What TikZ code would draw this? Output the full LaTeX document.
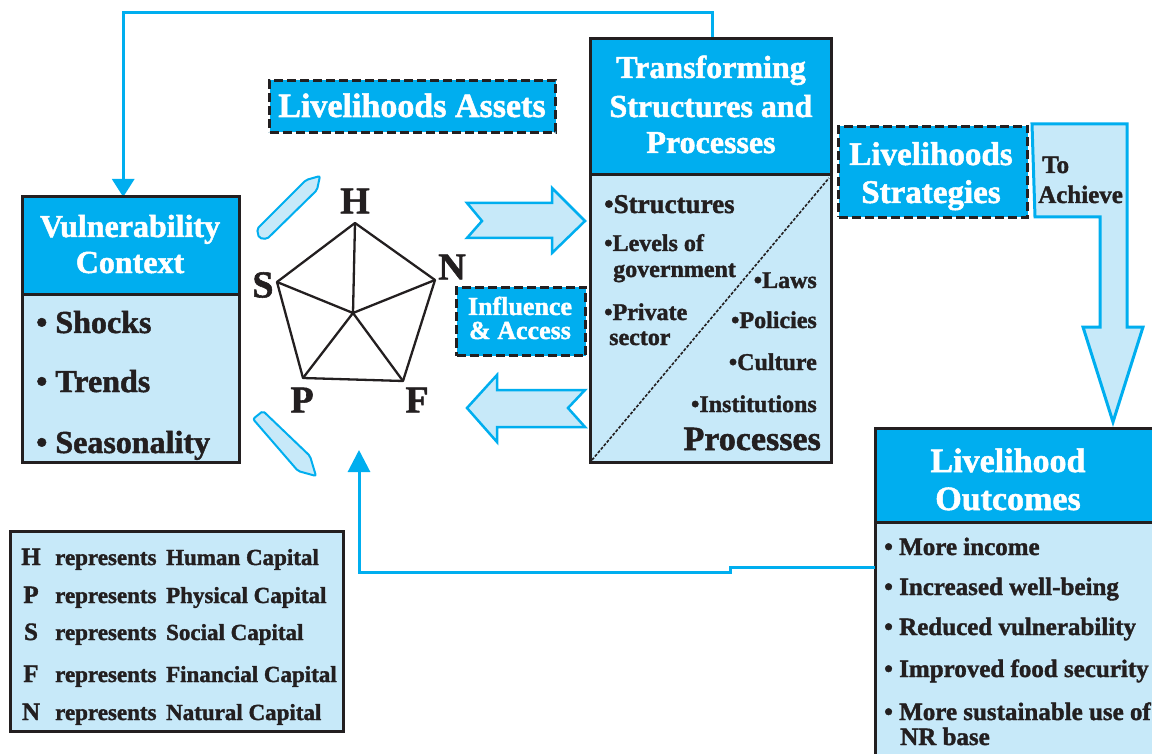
\documentclass[tikz,border=0pt]{standalone}
\usepackage{fontspec}
\setmainfont{Liberation Serif}[BoldFeatures={FakeBold=1.5}]
\usetikzlibrary{arrows.meta}
\definecolor{sblue}{RGB}{0,174,239}
\definecolor{lblue}{RGB}{199,233,249}
\definecolor{ink}{RGB}{35,31,32}
\newcommand{\myfs}[1]{\fontsize{#1}{#1}\selectfont}
\begin{document}
\begin{tikzpicture}[x=1pt,y=-1pt,
  boxfill/.style={fill=lblue, inner sep=0pt, anchor=north west},
  boxedge/.style={draw=ink, line width=3pt},
  dbox/.style={fill=sblue, draw=ink, line width=3pt, dash pattern=on 9pt off 4pt,
     preaction={draw=sblue, line width=3pt}, inner sep=0pt, anchor=north west},
  hd/.style={text=white, font=\bfseries\myfs{#1}, inner sep=0pt, anchor=base},
  hd/.default=32,
  bt/.style={text=ink, font=\bfseries\myfs{#1}, inner sep=0pt},
  bt/.default=24,
  lt/.style={text=ink, font=\bfseries\myfs{38}, inner sep=0pt},
  pl/.style={draw=ink, line width=2.3pt, line join=round},
  bl/.style={draw=sblue, line width=3pt},
  blockarrow/.style={fill=lblue, draw=sblue, line width=2.5pt, line join=miter},
]
\useasboundingbox (0,0) rectangle (1152,754);

% ---------------- top connector ----------------
\node[boxfill, minimum width=241pt, minimum height=423pt] (ts) at (590,39) {};
\node[boxfill, minimum width=217pt, minimum height=265pt] (vc) at (22,197) {};
\draw[bl, -{Triangle[width=22pt,length=18pt]}] ([xshift=2pt]ts.north) -- ++(0,-26) -| ([xshift=-7.5pt]vc.north);

% ---------------- Vulnerability Context ----------------
\fill[sblue] (vc.north west) rectangle (vc.east |- 0,295);
\draw[boxedge] (vc.west |- 0,295) -- (vc.east |- 0,295);
\draw[boxedge] (vc.north west) rectangle (vc.south east);
\node[hd] (vc1) at (130,237) {Vulnerability};
\node[hd] (vc2) at (130,273) {Context};
\node[bt=32, anchor=base west] (vc3) at (36,333) {\textbullet\ Shocks};
\node[bt=32, anchor=base west] (vc4) at (36,392) {\textbullet\ Trends};
\node[bt=32, anchor=base west] (vc5) at (36,453) {\textbullet\ Seasonality};

% ---------------- Transforming Structures and Processes ----------------
\fill[sblue] (ts.north west) rectangle (ts.east |- 0,175);
\draw[boxedge] (ts.west |- 0,175) -- (ts.east |- 0,175);
\draw[draw=ink, line width=1.6pt, dash pattern=on 3pt off 1.6pt] (592,460) -- (829,178);
\draw[boxedge] (ts.north west) rectangle (ts.south east);
\node[hd] (ts1) at (711,78) {Transforming};
\node[hd] (ts2) at (711,117) {Structures and};
\node[hd] (ts3) at (711,153) {Processes};
\node[bt=27, anchor=base west] (ts4) at (604,213) {\textbullet Structures};
\node[bt, anchor=base west] (ts5) at (604,251) {\textbullet Levels of};
\node[bt, anchor=base west] (ts6) at (613,277) {government};
\node[bt, anchor=base west] (ts7) at (604,320) {\textbullet Private};
\node[bt, anchor=base west] (ts8) at (609,345) {sector};
\node[bt, anchor=base east] (ts9) at (817,288) {\textbullet Laws};
\node[bt, anchor=base east] (ts10) at (817,328) {\textbullet Policies};
\node[bt, anchor=base east] (ts11) at (817,370) {\textbullet Culture};
\node[bt, anchor=base east] (ts12) at (817,412) {\textbullet Institutions};
\node[bt=34, anchor=base east] (ts13) at (821,450) {Processes};

% ---------------- Livelihoods Assets ----------------
\node[dbox, minimum width=286pt, minimum height=52pt] (la) at (268,79) {};
\node[hd=34] (la1) at (412,117) {Livelihoods Assets};

% ---------------- block arrows ----------------
\path[blockarrow] (467,203) -- (552,203) -- (552,188) -- (585,221) -- (552,253) -- (552,238) -- (467,238) -- (482,221) -- cycle;
\path[blockarrow] (467,408) -- (497,375) -- (497,390) -- (585,390) -- (568,408) -- (585,427) -- (497,427) -- (497,442) -- cycle;

% ---------------- small pencil arrows ----------------
\path[blockarrow, line width=2pt, rounded corners=2pt] (257,229) -- (306,180) -- (320,176) -- (317,190) -- (267,239) -- (259,238) -- cycle;
\path[blockarrow, line width=2pt, rounded corners=2pt] (253,419) -- (263,411) -- (310,456) -- (316,476) -- (298,471) -- cycle;

% ---------------- Influence & Access ----------------
\node[dbox, minimum width=129pt, minimum height=68pt] (ia) at (455,286) {};
\node[hd=26] (ia1) at (520,315) {Influence};
\node[hd=26] (ia2) at (520,339) {\& Access};

% ---------------- Pentagon ----------------
\coordinate (pH) at (355,223);
\coordinate (pN) at (435,280);
\coordinate (pF) at (403,381);
\coordinate (pP) at (303,378);
\coordinate (pS) at (277,282);
\coordinate (pO) at (353,313);
\draw[pl] (pH) -- (pN) -- (pF) -- (pP) -- (pS) -- cycle;
\draw[pl] (pO) -- (pH) (pO) -- (pN) (pO) -- (pF) (pO) -- (pP) (pO) -- (pS);
\node[lt] (lH) at (355,201) {H};
\node[lt] (lN) at (452,267) {N};
\node[lt] (lS) at (263,285) {S};
\node[lt] (lP) at (302,400) {P};
\node[lt] (lF) at (417,400) {F};

% ---------------- Livelihoods Strategies ----------------
\node[dbox, minimum width=189pt, minimum height=91pt] (ls) at (837,125) {};
\node[hd=33] (ls1) at (931,165) {Livelihoods};
\node[hd=33] (ls2) at (931,203) {Strategies};

% ---------------- To Achieve arrow ----------------
\path[blockarrow, line width=3pt] (1032,124) -- (1127,124) -- (1127,327) -- (1143,327) -- (1113,422) -- (1083,327) -- (1100,327) -- (1100,217) -- (1035,217) -- cycle;
\node[bt=25, anchor=base west] (ta1) at (1042,173) {To};
\node[bt=25, anchor=base west] (ta2) at (1038,203) {Achieve};

% ---------------- Livelihood Outcomes ----------------
\node[boxfill, minimum width=290pt, minimum height=340pt] (lo) at (875,428) {};
\fill[sblue] (lo.north west) rectangle (lo.east |- 0,522);
\draw[boxedge] (lo.west |- 0,522) -- (lo.east |- 0,522);
\draw[boxedge] (lo.north west) rectangle (lo.south east);
\node[hd=34] (lo1) at (1008,472) {Livelihood};
\node[hd=34] (lo2) at (1008,510) {Outcomes};
\node[bt=25, anchor=base west] (lo3) at (884,555) {\textbullet\ More income};
\node[bt=25, anchor=base west] (lo4) at (884,595) {\textbullet\ Increased well-being};
\node[bt=25, anchor=base west] (lo5) at (884,635) {\textbullet\ Reduced vulnerability};
\node[bt=25, anchor=base west] (lo6) at (884,677) {\textbullet\ Improved food security};
\node[bt=25, anchor=base west] (lo7) at (884,720) {\textbullet\ More sustainable use of};
\node[bt=25, anchor=base west] (lo8) at (900,745) {NR base};

% ---------------- bottom connector ----------------
\coordinate (assetin) at (359,450);
\draw[bl, -{Triangle[width=22pt,length=22pt]}] (lo.west |- 0,567) -- (730,567) -- (730,572) -| (assetin);

% ---------------- Legend ----------------
\node[boxfill, minimum width=333pt, minimum height=200pt] (lg) at (10.5,531.5) {};
\draw[boxedge] (lg.north west) rectangle (lg.south east);
\node[bt=25, anchor=base] (k1) at (31,565) {H};
\node[bt=23, anchor=base west] (d1) at (55,565) {represents\, Human Capital};
\node[bt=25, anchor=base] (k2) at (31,603) {P};
\node[bt=23, anchor=base west] (d2) at (55,603) {represents\, Physical Capital};
\node[bt=25, anchor=base] (k3) at (31,640) {S};
\node[bt=23, anchor=base west] (d3) at (55,640) {represents\, Social Capital};
\node[bt=25, anchor=base] (k4) at (31,682) {F};
\node[bt=23, anchor=base west] (d4) at (55,682) {represents\, Financial Capital};
\node[bt=25, anchor=base] (k5) at (31,720) {N};
\node[bt=23, anchor=base west] (d5) at (55,720) {represents\, Natural Capital};
\end{tikzpicture}
\end{document}
